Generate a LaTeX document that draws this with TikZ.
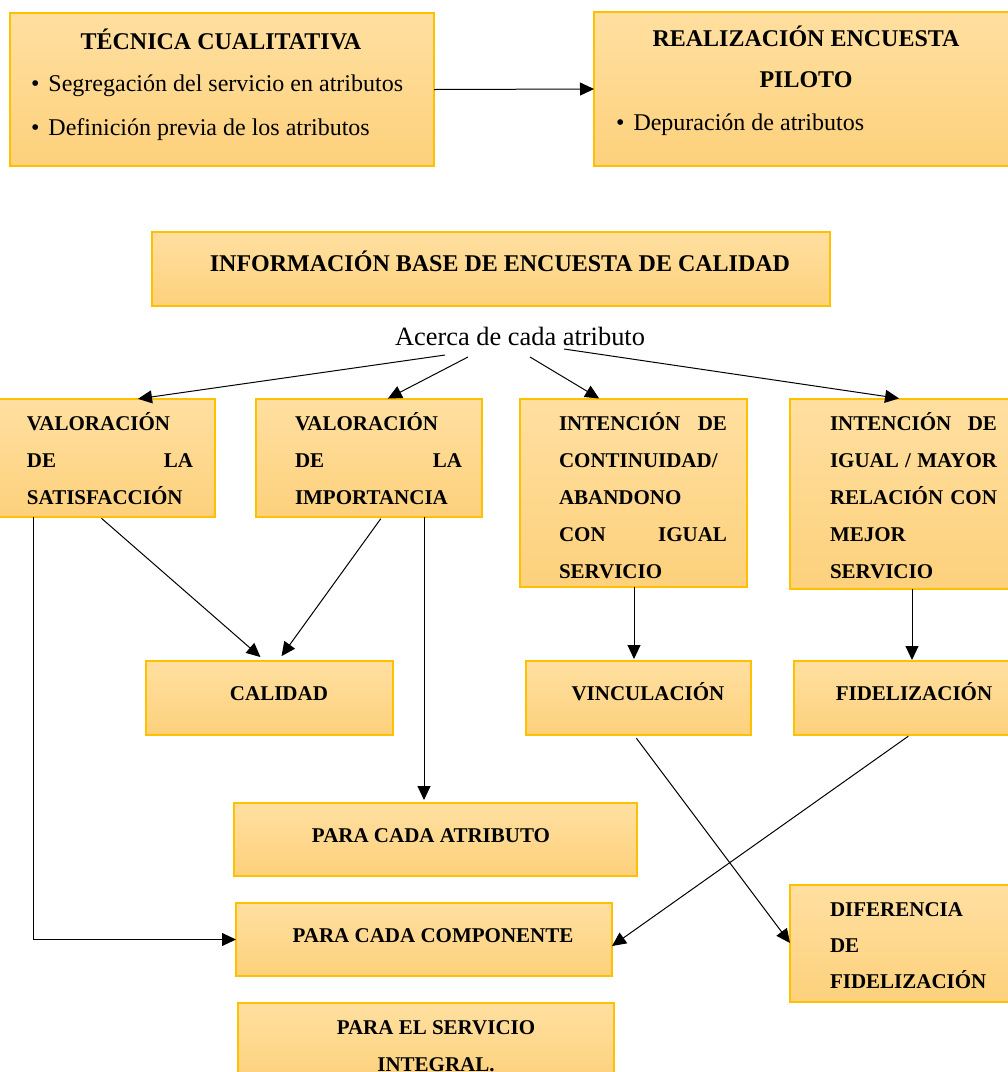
\documentclass[tikz,border=0pt]{standalone}
\usepackage{fontspec}
\setmainfont{Liberation Serif}
\usetikzlibrary{arrows.meta}
\definecolor{boxtop}{RGB}{255,223,160}
\definecolor{boxbot}{RGB}{253,209,124}
\definecolor{boxline}{RGB}{255,192,0}
\newcommand\bulitem{\makebox[17.5pt][l]{•}}
\begin{document}
\begin{tikzpicture}[x=1pt,y=-1pt,
  panel/.style={draw=boxline, line width=1.2pt, top color=boxtop, bottom color=boxbot,
                inner sep=0pt, outer sep=0pt, anchor=north west},
  lbl/.style={inner sep=0pt, outer sep=0pt, anchor=base west,
              font=\bfseries\fontsize{21}{37}\selectfont},
  lblc/.style={lbl, anchor=base},
  big/.style={inner sep=0pt, outer sep=0pt, font=\fontsize{24}{44}\selectfont},
  bigb/.style={inner sep=0pt, outer sep=0pt, font=\bfseries\fontsize{24}{44}\selectfont},
  link/.style={line width=1pt, -{Triangle[length=14pt,width=13pt]}},
]
\useasboundingbox (0,0) rectangle (1008,1072);

% boxes
\node[panel, minimum width=424pt, minimum height=153pt] (tec) at (10,13) {};
\node[panel, minimum width=420pt, minimum height=154pt] (pil) at (594,12) {};
\node[panel, minimum width=678pt, minimum height=74pt] (info) at (152,232) {};
\node[panel, minimum width=217pt, minimum height=118pt] (vs) at (-2,399) {};
\node[panel, minimum width=226pt, minimum height=118pt] (vi) at (256,399) {};
\node[panel, minimum width=227pt, minimum height=188pt] (ic) at (520,399) {};
\node[panel, minimum width=224pt, minimum height=190pt] (ig) at (790,399) {};
\node[panel, minimum width=247pt, minimum height=74pt] (cal) at (146,661) {};
\node[panel, minimum width=225pt, minimum height=74pt] (vin) at (526,661) {};
\node[panel, minimum width=220pt, minimum height=74pt] (fid) at (794,661) {};
\node[panel, minimum width=403pt, minimum height=73pt] (pca) at (234,803) {};
\node[panel, minimum width=376pt, minimum height=73pt] (pcc) at (236,903) {};
\node[panel, minimum width=376pt, minimum height=80pt] (psi) at (238,1003) {};
\node[panel, minimum width=224pt, minimum height=117pt] (dif) at (790,885) {};

% texts
\node[bigb, anchor=base] (tec-title) at (221,49) {TÉCNICA CUALITATIVA};
\node[big, anchor=base west] (tec-list) at (31,91)
  {\parbox[t]{400pt}{\bulitem Segregación del servicio en atributos\\
                     \bulitem Definición previa de los atributos}};
\node[bigb, anchor=base] (pil-title) at (806,46)
  {\parbox[t]{330pt}{\centering\baselineskip=41pt REALIZACIÓN ENCUESTA\\ PILOTO}};
\node[big, anchor=base west] (pil-list) at (616,130) {\bulitem Depuración de atributos};
\node[bigb, anchor=base] (info-title) at (500,271) {INFORMACIÓN BASE DE ENCUESTA DE CALIDAD};
\node[big, font=\fontsize{26.4}{30}\selectfont, anchor=base] (acerca) at (520,345) {Acerca de cada atributo};

\node[lbl] (vs-t) at (27,430)
  {\parbox[t]{166pt}{VALORACIÓN\\ DE\hfill LA\\ SATISFACCIÓN}};
\node[lbl] (vi-t) at (295,430)
  {\parbox[t]{167pt}{VALORACIÓN\\ DE\hfill LA\\ IMPORTANCIA}};
\node[lbl] (ic-t) at (559,430)
  {\parbox[t]{168pt}{INTENCIÓN\hfill DE\\ CONTINUIDAD/\\ ABANDONO\\ CON\hfill IGUAL\\ SERVICIO}};
\node[lbl] (ig-t) at (830,430)
  {\parbox[t]{167pt}{INTENCIÓN\hfill DE\\ IGUAL\hfill/\hfill MAYOR\\ RELACIÓN\hfill CON\\ MEJOR\\ SERVICIO}};
\node[lblc] (cal-t) at (279,700) {CALIDAD};
\node[lblc] (vin-t) at (648,700) {VINCULACIÓN};
\node[lblc] (fid-t) at (914,700) {FIDELIZACIÓN};
\node[lblc] (pca-t) at (431,842) {PARA CADA ATRIBUTO};
\node[lblc] (pcc-t) at (433,942) {PARA CADA COMPONENTE};
\node[lblc] (psi-t) at (436,1034)
  {\parbox[t]{300pt}{\centering PARA EL SERVICIO\\ INTEGRAL.}};
\node[lbl] (dif-t) at (830,916)
  {\parbox[t]{170pt}{\baselineskip=36pt DIFERENCIA\\ DE\\ FIDELIZACIÓN}};

% fan-out points below the caption
\coordinate (fan1) at (445,355);
\coordinate (fan2) at (468,357);
\coordinate (fan3) at (530,357);
\coordinate (fan4) at (564,349);

% connectors
\draw[link] (tec.east) -- (pil.west);
\draw[link, shorten >=1pt] (fan1) -- ([xshift=139pt]vs.north west);
\draw[link, shorten >=1pt] (fan2) -- ([xshift=131pt]vi.north west);
\draw[link, shorten >=1pt] (fan3) -- ([xshift=80pt]ic.north west);
\draw[link, shorten >=4pt] (fan4) -- ([xshift=113pt]ig.north west);

\draw[link, shorten <=2pt, shorten >=6pt] ([xshift=102pt]vs.south west) -- ([xshift=119pt]cal.north west);
\draw[link, shorten <=2pt, shorten >=6pt] ([xshift=126pt]vi.south west) -- ([xshift=132pt]cal.north west);
\draw[link] ([xshift=35pt]vs.south west) |- (pcc.west);
\draw[link, shorten >=3pt] ([xshift=168pt]vi.south west) -- ([xshift=190pt]pca.north west);
\draw[link, shorten >=2pt] ([xshift=114pt]ic.south west) -- ([xshift=108pt]vin.north west);
\draw[link, shorten >=1pt] ([xshift=122pt]ig.south west) -- ([xshift=118pt]fid.north west);
\draw[link, shorten <=4pt] ([xshift=108pt]vin.south west) -- ([yshift=-58pt]dif.north west);
\draw[link, shorten <=2pt] ([xshift=116pt]fid.south west) -- ([yshift=-43pt]pcc.north east);
\end{tikzpicture}
\end{document}
